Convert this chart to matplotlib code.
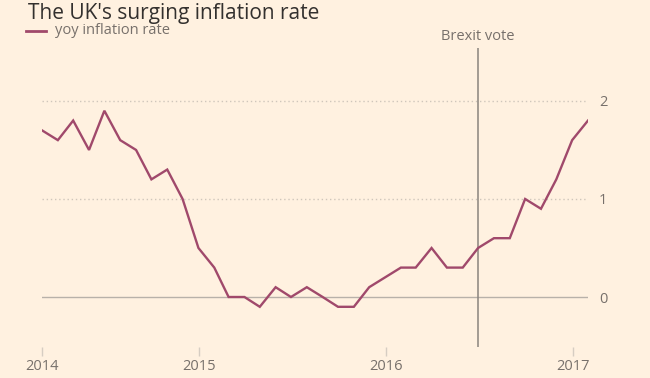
import pandas as pd
import matplotlib.pyplot as plt

# monthly yoy CPI (points sit at month end)
months = pd.date_range('2014-02-28', periods=36, freq='ME')
inflation = [1.7, 1.6, 1.8, 1.5, 1.9, 1.6, 1.5, 1.2, 1.3, 1.0, 0.5, 0.3,
             0.0, 0.0, -0.1, 0.1, 0.0, 0.1, 0.0, -0.1, -0.1, 0.1, 0.2, 0.3,
             0.3, 0.5, 0.3, 0.3, 0.5, 0.6, 0.6, 1.0, 0.9, 1.2, 1.6, 1.8]
year_ticks = [months[0], pd.Timestamp('2015-01-01'), pd.Timestamp('2016-01-01'), pd.Timestamp('2017-01-01')]
year_labels = ['2014', '2015', '2016', '2017']
y_ticks = [0, 1, 2]
brexit_date = pd.Timestamp('2016-06-30')

bg = '#fff1e0'
claret = '#a0496b'
grey = '#77706b'

plt.rcParams['font.family'] = ['Open Sans', 'DejaVu Sans']

fig = plt.figure(figsize=(6.5, 3.78), dpi=100, facecolor=bg)
ax = fig.add_axes([42 / 650, 31 / 378, 546 / 650, 299 / 378])
ax.set_facecolor(bg)

ax.plot(months, inflation, color=claret, lw=1.7, solid_joinstyle='miter', zorder=3)

ax.set_xlim(months[0], months[-1])
ax.set_ylim(-0.51, 2.54)

# gridlines
for v in y_ticks:
    if v == 0:
        ax.axhline(v, color='#b8b1a9', lw=1, zorder=1)
    else:
        ax.axhline(v, color='#cfc6bb', lw=1, ls=(0, (1, 2)), zorder=1)

ax.axvline(brexit_date, color='#8a847e', lw=1.1, zorder=2)
ax.annotate('Brexit vote', xy=(brexit_date, 1), xycoords=('data', 'axes fraction'),
            xytext=(0, 3), textcoords='offset points', ha='center', va='bottom',
            fontsize=10.5, color=grey)

for s in ax.spines.values():
    s.set_visible(False)

ax.yaxis.tick_right()
ax.set_yticks(y_ticks)
ax.set_yticklabels([str(v) for v in y_ticks])
ax.tick_params(axis='y', length=0, pad=8, labelsize=10.5, labelcolor=grey)

ax.set_xticks(year_ticks)
ax.set_xticklabels(year_labels)
ax.tick_params(axis='x', length=6.5, width=1, color='#d6cdc2', pad=2,
               labelsize=10.5, labelcolor=grey)

fig.text(28 / 650, 1 - 3 / 378, "The UK's surging inflation rate", ha='left', va='top',
         fontsize=15, color='#33302e')
fig.add_artist(plt.Line2D([26 / 650, 46 / 650], [1 - 31 / 378] * 2, color=claret, lw=2))
fig.text(55 / 650, 1 - 31 / 378, 'yoy inflation rate', ha='left', va='center',
         fontsize=10.5, color=grey)

fig.savefig('out.png', dpi=100, facecolor=bg)
